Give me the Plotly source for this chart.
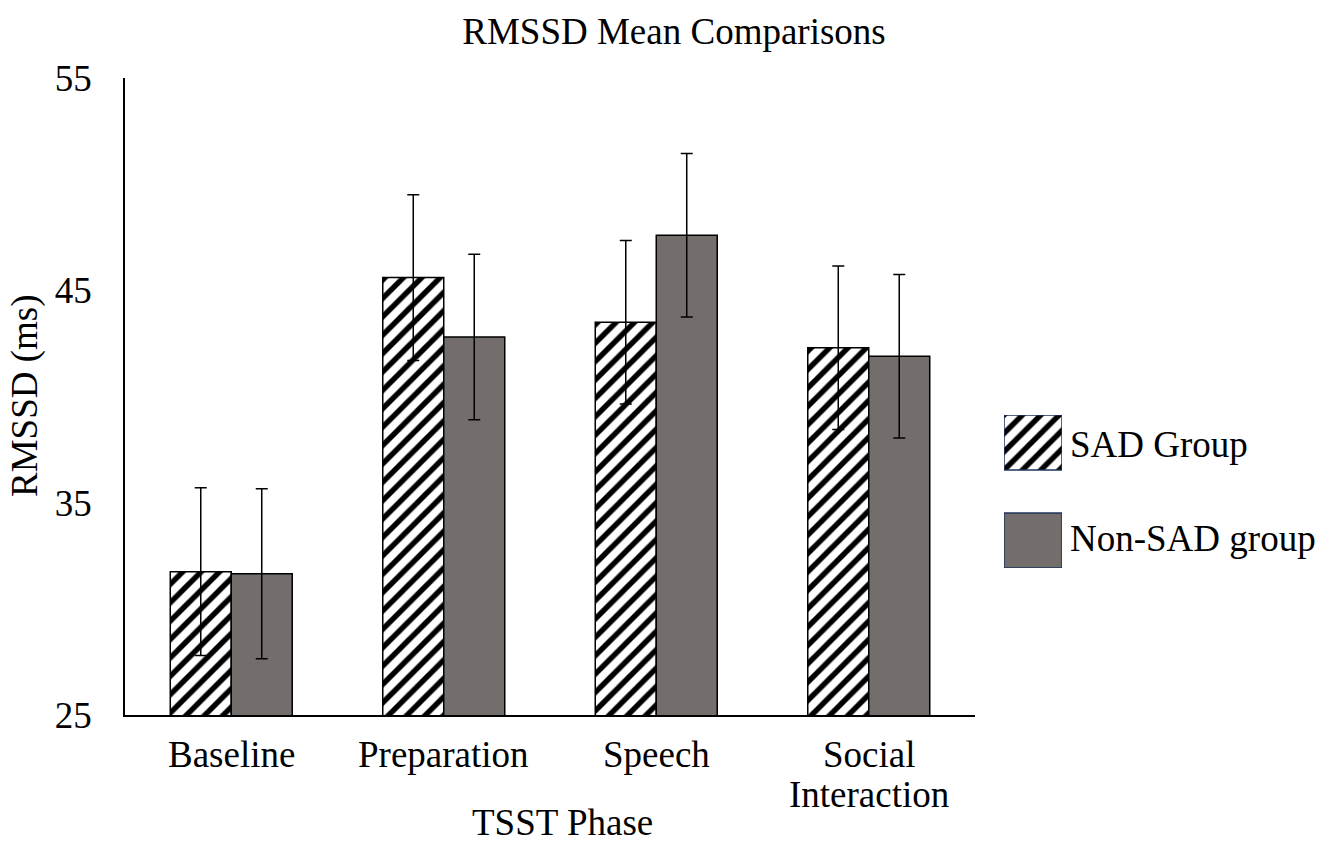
import plotly.graph_objects as go

phases = ["Baseline", "Preparation", "Speech", "Social Interaction"]
phase_lines = [["Baseline"], ["Preparation"], ["Speech"], ["Social", "Interaction"]]
sad_mean = [31.75, 45.6, 43.5, 42.3]
sad_err = [3.95, 3.9, 3.85, 3.85]
nonsad_mean = [31.65, 42.8, 47.6, 41.9]
nonsad_err = [4.0, 3.9, 3.85, 3.85]
series_names = ["SAD Group", "Non-SAD group"]
y_ticks = [25, 35, 45, 55]

FONT = "Liberation Serif"
FS = 37
GRAY = "#736e6c"
hatch = dict(shape="/", fgcolor="#000000", fgopacity=1, bgcolor="#ffffff",
             size=13, solidity=0.42, fillmode="replace")

# pixel helpers for the layout (plot area: x 125..1325, y 78..715)
def px_x(p):
    return (p - 125) / 1200

def px_y(p):
    return (715 - p) / 637

fig = go.Figure()

fig.add_trace(go.Bar(
    x=phases, y=sad_mean, name=series_names[0],
    marker=dict(color="white", pattern=hatch, line=dict(color="black", width=1.5)),
    error_y=dict(type="data", array=sad_err, color="black", thickness=1.5, width=6),
    showlegend=False,
))
fig.add_trace(go.Bar(
    x=phases, y=nonsad_mean, name=series_names[1],
    marker=dict(color=GRAY, line=dict(color="black", width=1.5)),
    error_y=dict(type="data", array=nonsad_err, color="black", thickness=1.5, width=6),
    showlegend=False,
))

# Legend swatches drawn as bars on a small hidden axis, so the hatch shows at full size
fig.add_trace(go.Bar(
    x=[1], y=[1], orientation="h", width=0.561, xaxis="x2", yaxis="y2",
    marker=dict(color="white", pattern=hatch, line=dict(color="#1f3358", width=1.5)),
    showlegend=False, hoverinfo="skip",
))
fig.add_trace(go.Bar(
    x=[1], y=[0], orientation="h", width=0.561, xaxis="x2", yaxis="y2",
    marker=dict(color=GRAY, line=dict(color="#1f3358", width=1.5)),
    showlegend=False, hoverinfo="skip",
))

font = dict(family=FONT, size=FS, color="black")
annotations = []

# legend labels
for name, py in zip(series_names, [444, 538]):
    annotations.append(dict(
        x=px_x(1068), y=px_y(py), xref="paper", yref="paper", text=name, showarrow=False,
        xanchor="left", yanchor="middle", font=font,
    ))

# category labels under the axis
for cat, lines in zip(phases, phase_lines):
    for j, line in enumerate(lines):
        annotations.append(dict(
            x=cat, y=px_y(754 + 40 * j), xref="x", yref="paper", text=line, showarrow=False,
            xanchor="center", yanchor="middle", font=font,
        ))

# axis titles
annotations.append(dict(
    x=px_x(562), y=px_y(822), xref="paper", yref="paper", text="TSST Phase", showarrow=False,
    xanchor="center", yanchor="middle", height=36, valign="middle", font=font,
))
annotations.append(dict(
    x=px_x(25), y=px_y(396), xref="paper", yref="paper", text="RMSSD (ms)", showarrow=False,
    textangle=-90, xanchor="center", yanchor="middle", font=font,
))

main_w = 850 / 1200

fig.update_layout(
    width=1335, height=841,
    margin=dict(l=125, r=10, t=78, b=126),
    paper_bgcolor="white", plot_bgcolor="white",
    barmode="group", bargap=0.426, bargroupgap=0,
    font=dict(family=FONT, color="black"),
    title=dict(text="RMSSD Mean Comparisons", x=674 / 1335, xref="container", xanchor="center",
               y=1 - 31 / 841, yref="container", yanchor="middle", font=font),
    xaxis=dict(
        domain=[0, main_w], showline=True, linecolor="black", linewidth=1.5,
        showgrid=False, ticks="", showticklabels=False,
    ),
    yaxis=dict(
        range=[25, 55], tickvals=y_ticks, showline=True, linecolor="black",
        linewidth=1.5, showgrid=False, zeroline=False, ticks="",
        ticklabelstandoff=24, tickfont=font,
    ),
    xaxis2=dict(domain=[px_x(1004), px_x(1062)], range=[0, 1],
                visible=False, fixedrange=True),
    yaxis2=dict(domain=[px_y(568), px_y(415)], range=[-0.2806, 1.2806],
                anchor="x2", visible=False, fixedrange=True),
    annotations=annotations,
)

fig.write_html("out.html")
